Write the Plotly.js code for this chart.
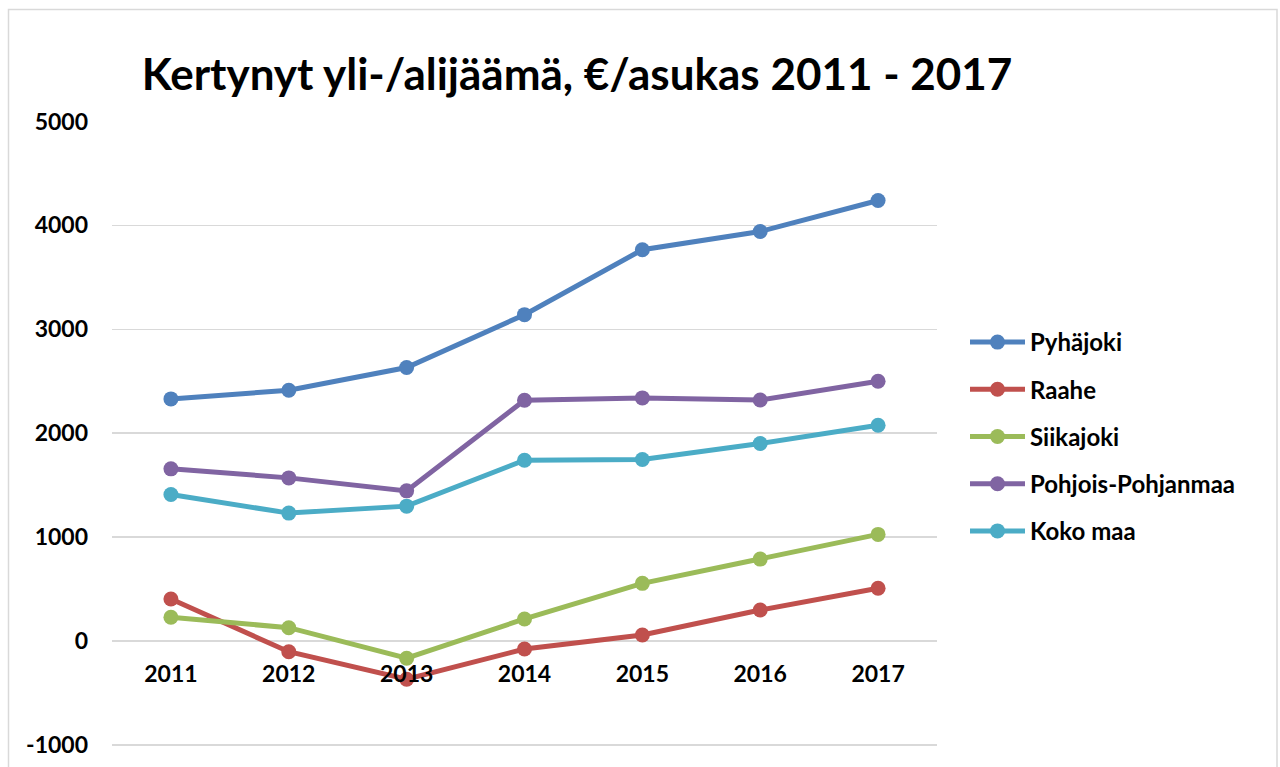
<!DOCTYPE html>
<html>
<head>
<meta charset="utf-8">
<script src="https://cdn.plot.ly/plotly-3.0.1.min.js"></script>
<style>
  html, body { margin: 0; padding: 0; background: #ffffff; }
  #chart { width: 1280px; height: 767px; }
</style>
</head>
<body>
<div id="chart"></div>
<script>
const years = ['2011', '2012', '2013', '2014', '2015', '2016', '2017'];
const seriesNames = ['Pyhäjoki', 'Raahe', 'Siikajoki', 'Pohjois-Pohjanmaa', 'Koko maa'];
const pyhajoki = [2330, 2413, 2632, 3141, 3766, 3942, 4240];
const raahe = [404, -103, -368, -77, 58, 298, 507];
const siikajoki = [228, 128, -166, 212, 555, 788, 1026];
const pohjoisPohjanmaa = [1657, 1570, 1445, 2317, 2340, 2320, 2500];
const kokoMaa = [1410, 1231, 1298, 1740, 1747, 1901, 2077];
const colors = ['#4F81BD', '#C0504D', '#9BBB59', '#8064A2', '#4BACC6'];
const yTicks = [-1000, 0, 1000, 2000, 3000, 4000, 5000];
const titleText = 'Kertynyt yli-/alijäämä, €/asukas 2011 - 2017';

const font = 'Lato, Carlito, Calibri, "Open Sans", sans-serif';
const values = [pyhajoki, raahe, siikajoki, pohjoisPohjanmaa, kokoMaa];

const traces = values.map((v, i) => ({
  type: 'scatter',
  mode: 'lines+markers',
  name: seriesNames[i],
  legendgroup: 'g' + i,
  x: years,
  y: v,
  line: { color: colors[i], width: 5 },
  marker: { color: colors[i], size: 15 },
  cliponaxis: false,
  hoverinfo: 'x+y+name'
}));

const yMin = -1030, yMax = 5005;
const layout = {
  width: 1280,
  height: 767,
  paper_bgcolor: '#ffffff',
  plot_bgcolor: '#ffffff',
  margin: { l: 112, r: 343, t: 120.5, b: 18.9 },
  font: { family: font, color: '#000000' },
  title: {
    text: '<b>' + titleText + '</b>',
    font: { family: font, size: 44, color: '#000000', weight: 'bold' },
    x: 577 / 1280,
    xanchor: 'center',
    xref: 'container',
    y: 1 - 75 / 767,
    yanchor: 'middle',
    yref: 'container'
  },
  xaxis: {
    type: 'category',
    anchor: 'free',
    position: (0 - yMin) / (yMax - yMin),
    showgrid: false,
    zeroline: false,
    showline: false,
    ticks: '',
    ticklabelstandoff: 17,
    tickfont: { family: font, size: 23, color: '#000000', weight: 'bold' },
    range: [-0.5, 6.5]
  },
  yaxis: {
    range: [yMin, yMax],
    tickvals: yTicks,
    ticktext: yTicks.map(String),
    showgrid: true,
    gridcolor: '#d9d9d9',
    gridwidth: 1.5,
    zeroline: false,
    showline: false,
    ticks: '',
    ticklabelstandoff: 23,
    tickfont: { family: font, size: 23, color: '#000000', weight: 'bold' }
  },
  showlegend: true,
  legend: {
    x: 965 / 1280,
    xref: 'container',
    xanchor: 'left',
    y: 1 - 320 / 767,
    yref: 'container',
    yanchor: 'top',
    font: { family: font, size: 24, color: '#000000', weight: 'bold' },
    itemwidth: 55,
    tracegroupgap: 13,
    bgcolor: 'rgba(0,0,0,0)'
  },
  shapes: [{
    type: 'rect',
    xref: 'paper', yref: 'paper',
    x0: (8.5 - 112) / 825, x1: (1277 - 112) / 825,
    y0: -0.2, y1: (748.1 - 9) / 627.6,
    line: { color: '#d9d9d9', width: 1.5 },
    fillcolor: 'rgba(0,0,0,0)',
    layer: 'below'
  }]
};

Plotly.newPlot('chart', traces, layout, { displayModeBar: false, staticPlot: true });
</script>
</body>
</html>
